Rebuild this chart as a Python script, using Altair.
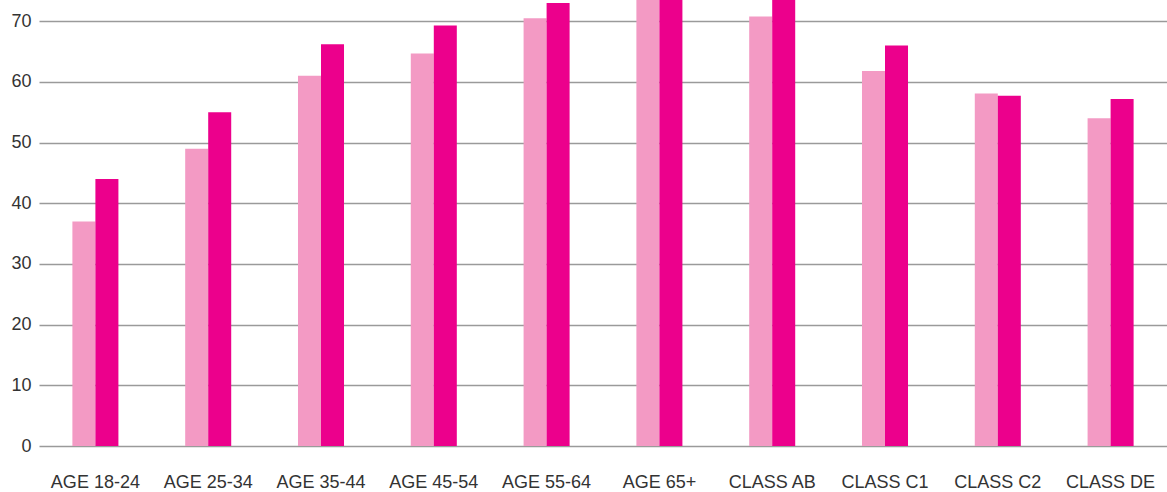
import altair as alt
import pandas as pd

categories = ["AGE 18-24", "AGE 25-34", "AGE 35-44", "AGE 45-54", "AGE 55-64",
              "AGE 65+", "CLASS AB", "CLASS C1", "CLASS C2", "CLASS DE"]
series_a = [37, 49, 61, 64.7, 70.5, 76, 70.8, 61.8, 58.1, 54]
series_b = [44, 55, 66.2, 69.3, 73, 79, 78, 66, 57.7, 57.2]
series_names = ["A", "B"]
series_colors = ["#F39AC4", "#EC008C"]
y_ticks = [0, 10, 20, 30, 40, 50, 60, 70]

rows = []
for cat, a, b in zip(categories, series_a, series_b):
    rows.append({"category": cat, "series": series_names[0], "value": a})
    rows.append({"category": cat, "series": series_names[1], "value": b})
df = pd.DataFrame(rows)

font = "Liberation Sans"

chart = alt.Chart(df).mark_bar(clip=True).encode(
    x=alt.X("category:N", sort=categories,
            scale=alt.Scale(paddingInner=0.592, paddingOuter=0.296),
            axis=alt.Axis(title=None, labelAngle=0, domain=False, ticks=False,
                          labelPadding=27, labelBaseline="top", labelFont=font,
                          labelFontSize=18, labelColor="#333333")),
    xOffset=alt.XOffset("series:N", sort=series_names, scale=alt.Scale(paddingInner=0, paddingOuter=0)),
    y=alt.Y("value:Q", scale=alt.Scale(domain=[0, 73.5], nice=False, zero=True),
            axis=alt.Axis(title=None, values=y_ticks, domain=False, ticks=False,
                          labelPadding=8, labelFont=font, labelFontSize=18,
                          labelColor="#333333", grid=True, gridColor="#9a9a9a",
                          gridWidth=1.6)),
    color=alt.Color("series:N", sort=series_names,
                    scale=alt.Scale(domain=series_names, range=series_colors),
                    legend=None),
).properties(
    width=1128,
    height=446,
    autosize=alt.AutoSizeParams(type="none"),
    padding={"left": 39, "top": 0, "right": 0, "bottom": 46},
).configure_view(stroke=None)

chart.save("out.html", embed_options={"renderer": "svg", "actions": False})
